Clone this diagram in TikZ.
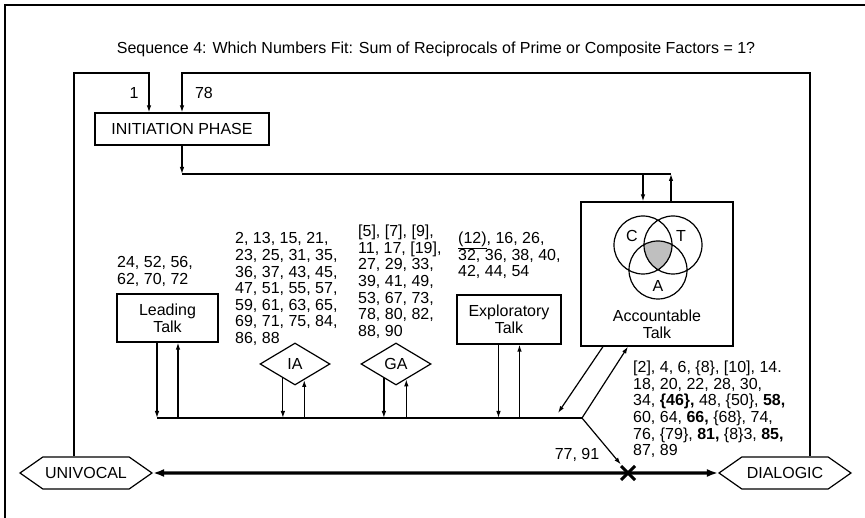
\documentclass[tikz,border=0pt]{standalone}
\usepackage{fontspec}
\setmainfont{Liberation Sans}
\usetikzlibrary{shapes.geometric, shapes.symbols, shapes.misc, arrows.meta, positioning, calc}

\begin{document}
\begin{tikzpicture}[
    x=1pt, y=-1pt,
    every node/.style={font=\fontsize{16}{16.6}\selectfont},
    box/.style={rectangle, draw, line width=1.2pt, inner sep=0pt, align=center},
    pick/.style={diamond, draw, line width=1.2pt, inner sep=0pt,
                 minimum width=70pt, minimum height=42pt},
    pole/.style={signal, signal to=west and east, signal pointer angle=70, draw,
                 line width=1.2pt, minimum width=132pt, minimum height=32pt, inner sep=0pt},
    nums/.style={align=left, inner sep=0pt, anchor=north west},
    link/.style={line width=1.2pt},
    arrow/.style={-{Latex[length=7pt,width=4.5pt]}, line width=1.2pt},
    scale arrow/.style={{Latex[length=11pt,width=8pt]}-{Latex[length=11pt,width=8pt]},
                        line width=3.2pt}
  ]
    \useasboundingbox (0,0) rectangle (865,518);
    \draw[line width=1.3pt] (5,518) -- (5,5) -- (865,5);

    \node[anchor=base] (title) at (436,54)
      {Sequence 4: Which Numbers Fit: Sum of Reciprocals of Prime or Composite Factors = 1?};

    % phases and talk moves
    \node[box, minimum width=174pt, minimum height=32pt] (init) at (182,129) {INITIATION PHASE};
    \node[box, minimum width=101pt, minimum height=48pt] (lead) at (167.5,318) {Leading\\Talk};
    \node[pick] (ia) at (295,364) {IA};
    \node[pick] (ga) at (396,364) {GA};
    \node[box, minimum width=104pt, minimum height=49pt] (expl) at (509,319.5) {Exploratory\\Talk};
    \node[box, minimum width=152pt, minimum height=144pt] (acct) at (657,274) {};
    \node[pole] (univ) at (86,473) {UNIVOCAL};
    \node[pole] (dial) at (785,473) {DIALOGIC};

    % accountable talk venn
    \begin{scope}
      \clip (643,245) circle (29);
      \clip (673,245) circle (29);
      \fill[black!25] (658,270) circle (29);
    \end{scope}
    \draw[link] (643,245) circle (29) (673,245) circle (29) (658,270) circle (29);
    \node (vc) at (632,236) {C};
    \node (vt) at (681,236) {T};
    \node (va) at (658,285.5) {A};
    \node[align=center, inner sep=0pt, anchor=north] (acctx) at (657,310) {Accountable\\Talk};

    % line numbers
    \node[anchor=base] (n1) at (134,99) {1};
    \node[anchor=base] (n78) at (204,99) {78};
    \node[nums] (leadn) at (117,256.5) {24, 52, 56,\\62, 70, 72};
    \node[nums] (ian) at (235,232.5) {2, 13, 15, 21,\\23, 25, 31, 35,\\36, 37, 43, 45,\\47, 51, 55, 57,\\59, 61, 63, 65,\\69, 71, 75, 84,\\86, 88};
    \node[nums] (gan) at (358,225) {[5], [7], [9],\\11, 17, [19],\\27, 29, 33,\\39, 41, 49,\\53, 67, 73,\\78, 80, 82,\\88, 90};
    \node[nums] (expln) at (458,232) {\underline{(12)}, 16, 26,\\32, 36, 38, 40,\\42, 44, 54};
    \node[nums] (acctn) at (633,361) {[2], 4, 6, \{8\}, [10], 14.\\18, 20, 22, 28, 30,\\34, \textbf{\{46\},} 48, \{50\}, \textbf{58,}\\60, 64, \textbf{66,} \{68\}, 74,\\76, \{79\}, \textbf{81,} \{8\}3, \textbf{85,}\\87, 89};
    \node[anchor=base] (n77) at (577,460) {77, 91};

    \coordinate (roof) at (0,73);
    \coordinate (feed) at (0,174);
    \coordinate (jn) at (582,418);
    \coordinate (back) at (558,413);

    % loops back to initiation
    \draw[arrow] ([xshift=-12pt]univ.north) |- ([xshift=-33pt]init.north |- roof)
      -- ([xshift=-33pt]init.north);
    \draw[arrow] ([xshift=25pt]dial.north) |- (init.north |- roof) -- (init.north);

    \draw[arrow] (init.south) -- (init.south |- feed);
    \draw[link] (init.south |- feed) -- ([xshift=14pt]acct.north |- feed);
    \draw[arrow] ([xshift=-14pt]acct.north |- feed) -- ([xshift=-14pt]acct.north);
    \draw[arrow] ([xshift=14pt]acct.north) -- ([xshift=14pt]acct.north |- feed);

    \draw[link] ([xshift=-10.5pt]lead.south |- jn) -- (jn);
    \foreach \b in {lead, expl} {
      \draw[arrow] ([xshift=-10.5pt]\b.south) -- ([xshift=-10.5pt]\b.south |- jn);
      \draw[arrow] ([xshift=10.5pt]\b.south |- jn) -- ([xshift=10.5pt]\b.south);
    }
    \foreach \d/\a/\b in {ia/0.34/0.26, ga/0.34/0.29} {
      \draw[arrow] ($(\d.south)!\a!(\d.west)$) coordinate (o) -- (o |- jn);
      \path ($(\d.south)!\b!(\d.east)$) coordinate (i);
      \draw[arrow] (i |- jn) -- (i);
    }

    \draw[arrow] ([xshift=-54pt]acct.south) -- (back);
    \draw[arrow] (jn) -- ([xshift=-29pt]acct.south);

    % univocal - dialogic scale
    \draw[scale arrow] (univ) -- (dial);
    \node[cross out, draw, line width=3pt, minimum size=11pt, inner sep=0pt] (hit) at (628,473) {};
    \draw[arrow, shorten >=2pt] (jn) -- (hit);
  \end{tikzpicture}
\end{document}
